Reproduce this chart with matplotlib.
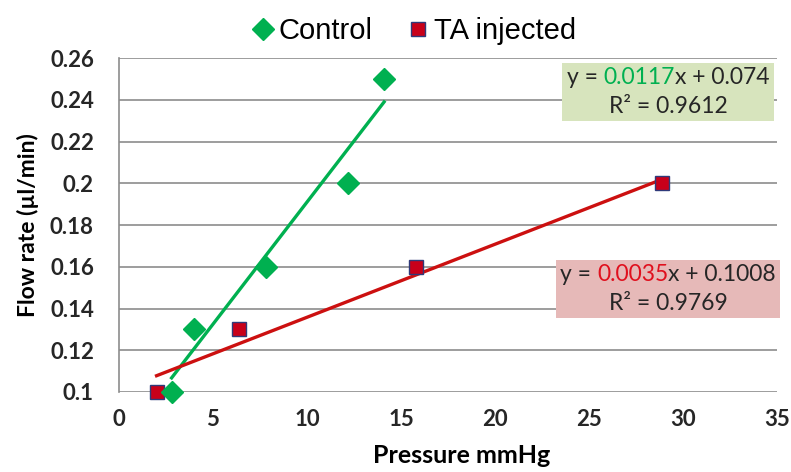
import matplotlib.pyplot as plt
import numpy as np
from matplotlib.offsetbox import TextArea, HPacker, VPacker, AnnotationBbox

# data
control_x = [2.8, 4.0, 7.8, 12.2, 14.1]
control_y = [0.10, 0.13, 0.16, 0.20, 0.25]
ta_x = [2.0, 6.4, 15.8, 28.9]
ta_y = [0.10, 0.13, 0.16, 0.20]

# trendline fits as printed on the chart
control_fit = (0.0117, 0.074, 0.9612)
ta_fit = (0.0035, 0.1008, 0.9769)

x_ticks = [0, 5, 10, 15, 20, 25, 30, 35]
y_ticks = [0.1, 0.12, 0.14, 0.16, 0.18, 0.2, 0.22, 0.24, 0.26]
y_labels = ['0.1', '0.12', '0.14', '0.16', '0.18', '0.2', '0.22', '0.24', '0.26']

green = '#00B050'
font = ['Lato', 'DejaVu Sans']

fig = plt.figure(figsize=(7.91, 4.72), dpi=100)
ax = fig.add_axes([0.1504, 0.1695, 0.832, 0.7075])

# trendlines
xs = np.array([min(control_x), max(control_x)])
ax.plot(xs, control_fit[0] * xs + control_fit[1], color=green, lw=2.4, zorder=2)
xs = np.array([min(ta_x), max(ta_x)])
ax.plot(xs, ta_fit[0] * xs + ta_fit[1], color='#CC1010', lw=2.4, zorder=2)

ax.plot(control_x, control_y, 'D', color=green, markersize=11.5, ls='none',
        label='Control', zorder=4, clip_on=False)
ax.plot(ta_x, ta_y, 's', markerfacecolor='#C8001A', markeredgecolor='#2F3A7A',
        markeredgewidth=1.0, markersize=10.5, ls='none', label='TA injected',
        zorder=3, clip_on=False)

ax.set_xlim(0, 35)
ax.set_ylim(0.1, 0.26)
ax.set_xticks(x_ticks)
ax.set_yticks(y_ticks)
ax.set_yticklabels(y_labels)
ax.tick_params(axis='y', length=0, labelsize=16, pad=18)
ax.tick_params(axis='x', length=0, labelsize=16, pad=12)
for lab in ax.get_xticklabels() + ax.get_yticklabels():
    lab.set_family(font)
    lab.set_fontweight('bold')
    lab.set_color('#262626')

ax.grid(axis='y', color='#8C8C8C', lw=1.2)
ax.set_axisbelow(True)
for s in ['right', 'bottom', 'top']:
    ax.spines[s].set_visible(False)
ax.spines['left'].set_color('#8C8C8C')
ax.spines['left'].set_linewidth(1.2)

ax.set_xlabel('Pressure mmHg', fontsize=18, fontweight='bold', family=font, labelpad=10)
ax.set_ylabel('Flow rate (µl/min)', fontsize=16.5, fontweight='bold', family=font, labelpad=8)
ax.xaxis.set_label_coords(0.52, -0.155)

fig.legend(loc='upper center', bbox_to_anchor=(0.52, 1.02), ncol=2, frameon=False,
           prop={'family': ['Liberation Sans'], 'size': 21}, handletextpad=0.0,
           columnspacing=1.0, handlelength=1.1, markerscale=0.95)


def eq_box(fit, color, face, xy):
    slope, icpt, r2 = fit
    kw = dict(fontsize=16.5, family=font, color='#262626')
    line1 = HPacker(children=[
        TextArea('y = ', textprops=kw),
        TextArea(f'{slope:.4f}', textprops=dict(kw, color=color)),
        TextArea(f'x + {icpt:g}', textprops=kw),
    ], pad=0, sep=0)
    line2 = TextArea(f'R² = {r2:.4f}', textprops=kw)
    box = VPacker(children=[line1, line2], align='center', pad=0, sep=6)
    ab = AnnotationBbox(box, xy, xycoords='figure pixels', box_alignment=(0.5, 0.5),
                        frameon=True, pad=0.45,
                        bboxprops=dict(facecolor=face, edgecolor='none', boxstyle='square'))
    fig.add_artist(ab)


eq_box(control_fit, green, '#D7E4BD', (668, 472 - 92))
eq_box(ta_fit, '#E0101E', '#E6B9B8', (668, 472 - 289))

fig.savefig('out.png', dpi=100)
